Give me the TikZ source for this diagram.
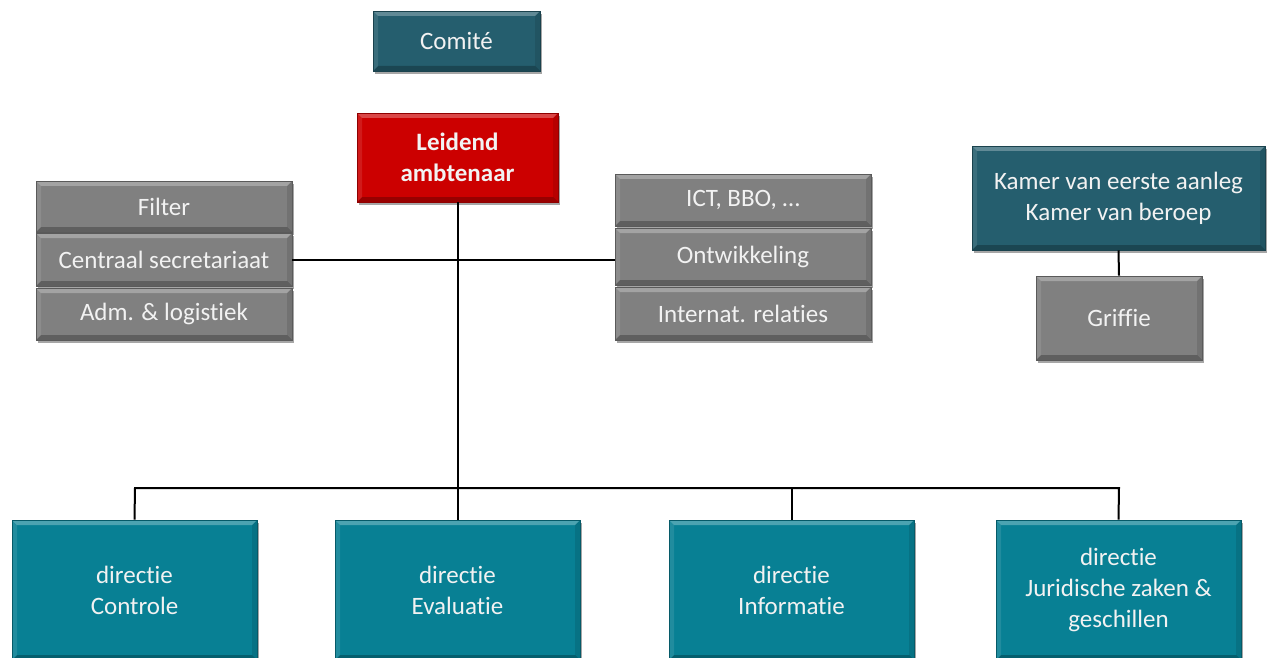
\documentclass[tikz,border=0pt]{standalone}
\usepackage{fontspec}
\setmainfont[Ligatures=NoCommon]{Carlito}
\usetikzlibrary{shadows}
\definecolor{darkteal}{RGB}{37,94,110}
\definecolor{teal2}{RGB}{8,128,148}
\definecolor{redbox}{RGB}{204,0,0}
\definecolor{greybox}{RGB}{128,128,128}
\definecolor{txt}{RGB}{242,242,242}
\tikzset{
  box/.style={draw=#1!70!black, line width=0.6pt, fill=#1, text=txt, align=center, inner sep=0pt,
    font=\fontsize{25}{31}\selectfont,
    drop shadow={shadow xshift=2pt, shadow yshift=-3pt, opacity=0.35, fill=black},
    path picture={
      \fill[white,opacity=0.28] (path picture bounding box.north west) -- (path picture bounding box.north east)
        -- ([xshift=-5pt,yshift=-5pt]path picture bounding box.north east) -- ([xshift=5pt,yshift=-5pt]path picture bounding box.north west) -- cycle;
      \fill[black,opacity=0.25] (path picture bounding box.south west) -- (path picture bounding box.south east)
        -- ([xshift=-5pt,yshift=5pt]path picture bounding box.south east) -- ([xshift=5pt,yshift=5pt]path picture bounding box.south west) -- cycle;
      \fill[black,opacity=0.10] (path picture bounding box.north east) -- (path picture bounding box.south east)
        -- ([xshift=-5pt,yshift=5pt]path picture bounding box.south east) -- ([xshift=-5pt,yshift=-5pt]path picture bounding box.north east) -- cycle;
      \fill[white,opacity=0.10] (path picture bounding box.north west) -- (path picture bounding box.south west)
        -- ([xshift=5pt,yshift=5pt]path picture bounding box.south west) -- ([xshift=5pt,yshift=-5pt]path picture bounding box.north west) -- cycle;
    }},
  conn/.style={draw=black, line width=2pt}
}
\newcommand{\bx}[7]{% name, color, x1, y1, x2, y2, text
  \node[box=#2, minimum width={#5-#3}, minimum height={#6-#4}] (#1) at ({(#3+#5)/2},{(#4+#6)/2}) {#7};}
\begin{document}
\begin{tikzpicture}[x=1pt,y=-1pt]
\useasboundingbox (0,0) rectangle (1275,658);
\coordinate (bus1) at (135,488);
\coordinate (bus4) at (1119,488);
% boxes
\bx{comite}{darkteal}{373}{11}{540}{71}{Comité}
\bx{leid}{redbox}{357}{113}{558}{202}{\bfseries Leidend\\\bfseries ambtenaar}
\bx{filter}{greybox}{36}{181}{292}{232}{Filter}
\bx{centraal}{greybox}{36}{233}{292}{286}{Centraal secretariaat}
\bx{adm}{greybox}{36}{288}{292}{340}{Adm. \& logistiek}
\bx{ict}{greybox}{615}{174}{871}{226}{ICT, BBO, \dots}
\bx{ontw}{greybox}{615}{228}{871}{285}{Ontwikkeling}
\bx{intern}{greybox}{615}{287}{871}{340}{Internat. relaties}
\bx{kamer}{darkteal}{972}{146}{1265}{250}{Kamer van eerste aanleg\\Kamer van beroep}
\bx{griffie}{greybox}{1036}{276}{1202}{360}{Griffie}
\bx{contr}{teal2}{12}{520}{257}{660}{directie\\Controle}
\bx{eval}{teal2}{335}{520}{580}{660}{directie\\Evaluatie}
\bx{info}{teal2}{669}{520}{914}{660}{directie\\Informatie}
\bx{jur}{teal2}{996}{520}{1241}{660}{directie\\Juridische zaken \&\\geschillen}
% connectors
\draw[conn] (leid.south) -- (eval.north);
\draw[conn] (centraal.east) -- (centraal.east -| ontw.west);
\draw[conn] (contr.north) -- (bus1) -- (bus4) -- (jur.north);
\draw[conn] (info.north) -- (info.north |- bus1);
\draw[conn] (kamer.south) -- (griffie.north);
\end{tikzpicture}
\end{document}
